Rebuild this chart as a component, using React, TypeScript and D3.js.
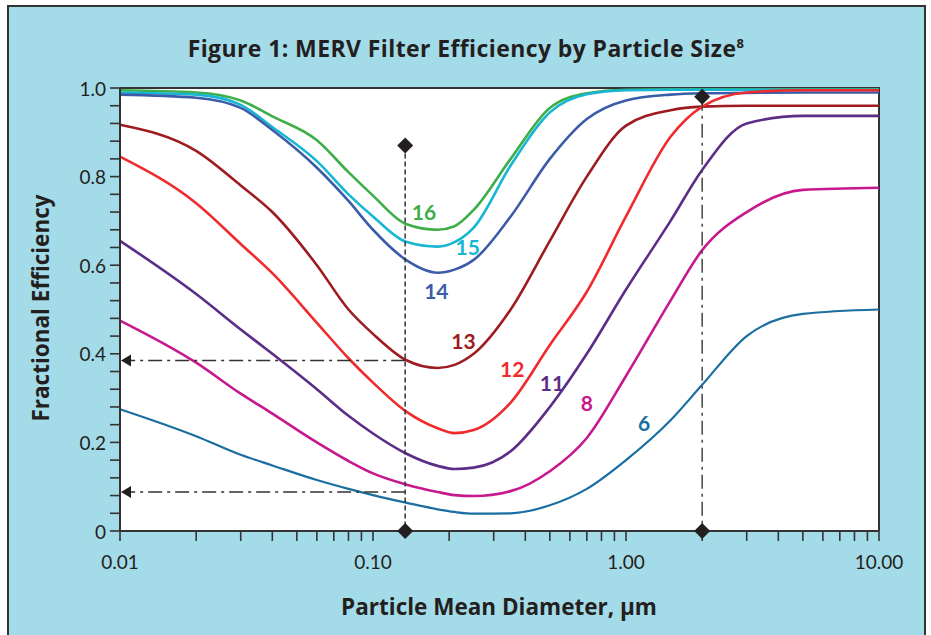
import React from "react";
import * as d3 from "d3";

const DIAMETERS = [0.01, 0.02, 0.03, 0.04, 0.06, 0.08, 0.1, 0.135, 0.18, 0.21, 0.25, 0.35, 0.5, 0.7, 1, 1.5, 2, 3, 5, 10];

const MERV16 = [0.995, 0.99, 0.972, 0.936, 0.882, 0.81, 0.757, 0.693, 0.68, 0.688, 0.725, 0.84, 0.955, 0.988, 0.996, 0.997, 0.997, 0.997, 0.997, 0.997];
const MERV15 = [0.99, 0.985, 0.962, 0.912, 0.835, 0.76, 0.71, 0.653, 0.642, 0.652, 0.685, 0.825, 0.945, 0.986, 0.995, 0.996, 0.996, 0.996, 0.996, 0.996];
const MERV14 = [0.985, 0.978, 0.955, 0.905, 0.82, 0.745, 0.68, 0.612, 0.583, 0.59, 0.612, 0.71, 0.84, 0.93, 0.972, 0.985, 0.988, 0.989, 0.99, 0.99];
const MERV13 = [0.917, 0.858, 0.78, 0.72, 0.6, 0.5, 0.445, 0.386, 0.368, 0.375, 0.4, 0.5, 0.655, 0.8, 0.915, 0.95, 0.958, 0.96, 0.96, 0.96];
const MERV12 = [0.845, 0.74, 0.648, 0.582, 0.47, 0.39, 0.335, 0.27, 0.232, 0.221, 0.228, 0.29, 0.42, 0.54, 0.71, 0.89, 0.958, 0.99, 0.995, 0.995];
const MERV11 = [0.655, 0.535, 0.455, 0.4, 0.32, 0.26, 0.22, 0.175, 0.147, 0.14, 0.143, 0.18, 0.28, 0.4, 0.545, 0.7, 0.815, 0.92, 0.937, 0.937];
const MERV8 = [0.475, 0.38, 0.31, 0.265, 0.2, 0.158, 0.13, 0.105, 0.088, 0.081, 0.079, 0.09, 0.135, 0.21, 0.35, 0.52, 0.634, 0.72, 0.77, 0.775];
const MERV6 = [0.275, 0.214, 0.172, 0.148, 0.115, 0.095, 0.081, 0.064, 0.049, 0.043, 0.039, 0.04, 0.058, 0.095, 0.16, 0.25, 0.33, 0.44, 0.49, 0.5];

const SERIES_NAMES = ["16", "15", "14", "13", "12", "11", "8", "6"];
const SERIES_VALUES = [MERV16, MERV15, MERV14, MERV13, MERV12, MERV11, MERV8, MERV6];
const SERIES_COLORS = ["#3dae49", "#17b6d4", "#3b5ca8", "#9e1b20", "#ef2b2d", "#5c2d86", "#c7198d", "#1a6ea0"];
// label anchors (diameter, efficiency)
const LABEL_D = [0.159, 0.237, 0.178, 0.228, 0.355, 0.51, 0.7, 1.18];
const LABEL_V = [0.722, 0.643, 0.542, 0.431, 0.366, 0.336, 0.289, 0.246];

const X_LABEL_TICKS = [0.01, 0.1, 1, 10];
const X_LABEL_TEXT = ["0.01", "0.10", "1.00", "10.00"];
const Y_LABEL_TICKS = [0, 0.2, 0.4, 0.6, 0.8, 1.0];
const Y_LABEL_TEXT = ["0", "0.2", "0.4", "0.6", "0.8", "1.0"];

// reference markers
const MARK_D1 = 0.134;
const MARK_D1_TOP = 0.87;
const MARK_D2 = 2.0;
const MARK_D2_TOP = 0.98;
const H_LINES = [0.385, 0.088];

const W = 931;
const H = 635;
const INK = "#231f20";
const FONT = "Lato, 'Open Sans', sans-serif";
const BOLD_FONT = "'Open Sans', Lato, sans-serif";

export default function App() {
  const x = d3.scaleLog().domain([0.01, 10]).range([120, 879]);
  const y = d3.scaleLinear().domain([0, 1]).range([531, 88]);

  const line = d3
    .line<[number, number]>()
    .x((d) => x(d[0]))
    .y((d) => y(d[1]))
    .curve(d3.curveMonotoneX);

  const minorX: number[] = [];
  for (const dec of [0.01, 0.1, 1]) {
    for (let k = 1; k <= 9; k++) minorX.push(+(dec * k).toPrecision(3));
  }
  minorX.push(10);
  const minorY = d3.range(0, 26).map((i) => +(i * 0.04).toFixed(2));

  const diamond = (cx: number, cy: number, r = 8) =>
    `M${cx},${cy - r}L${cx + r},${cy}L${cx},${cy + r}L${cx - r},${cy}Z`;

  const x0 = x(0.01);
  const x1 = x(10);
  const y0 = y(0);
  const y1 = y(1);

  return (
    <svg
      width={W}
      height={H}
      style={{ position: "absolute", left: 0, top: 0 }}
      fontFamily={FONT}
    >
      <rect x={8} y={6} width={917} height={H + 10} fill="#a3dbe8" stroke="#333" strokeWidth={2} />
      <text x={466} y={57} textAnchor="middle" fontSize={23} letterSpacing={0.4} fontWeight="bold" fill={INK} fontFamily={BOLD_FONT}>
        Figure 1: MERV Filter Efficiency by Particle Size
        <tspan fontSize={13} dy={-9}>8</tspan>
      </text>

      <rect x={x0} y={y1} width={x1 - x0} height={y0 - y1} fill="#fff" />
      <path d={`M${x0},${y1}H${x1}V${y0}`} fill="none" stroke="#333" strokeWidth={2} />

      {SERIES_VALUES.map((vals, i) => (
        <path
          key={SERIES_NAMES[i]}
          d={line(DIAMETERS.map((d, j) => [d, vals[j]] as [number, number])) || ""}
          fill="none"
          stroke={SERIES_COLORS[i]}
          strokeWidth={i === 7 ? 2.2 : 2.6}
        />
      ))}

      {SERIES_NAMES.map((n, i) => (
        <text
          key={"l" + n}
          x={x(LABEL_D[i])}
          y={y(LABEL_V[i])}
          textAnchor="middle"
          dominantBaseline="central"
          fontSize={21}
          fontWeight="bold"
          fill={SERIES_COLORS[i]}
        >
          {n}
        </text>
      ))}

      {/* reference lines */}
      <line x1={x(MARK_D1)} x2={x(MARK_D1)} y1={y(MARK_D1_TOP)} y2={y0} stroke="#333" strokeWidth={1.5} strokeDasharray="5,3" />
      <line x1={x(MARK_D2)} x2={x(MARK_D2)} y1={y(MARK_D2_TOP)} y2={y0} stroke="#444" strokeWidth={1.5} strokeDasharray="14,5,3,5" />
      {H_LINES.map((v) => (
        <g key={"h" + v}>
          <line x1={x(MARK_D1)} x2={x0 + 8} y1={y(v)} y2={y(v)} stroke="#333" strokeWidth={1.5} strokeDasharray="14,5,3,5" />
          <path d={`M${x0 + 1},${y(v)}L${x0 + 11},${y(v) - 6}L${x0 + 11},${y(v) + 6}Z`} fill={INK} />
        </g>
      ))}

      {/* axes */}
      <line x1={x0} x2={x0} y1={y1} y2={y0} stroke="#333" strokeWidth={2} />
      <line x1={x0} x2={x1} y1={y0} y2={y0} stroke="#333" strokeWidth={2} />
      {minorX.map((t) => (
        <line key={"xt" + t} x1={x(t)} x2={x(t)} y1={y0} y2={y0 + 10} stroke="#333" strokeWidth={1.6} />
      ))}
      {minorY.map((t) => (
        <line key={"yt" + t} x1={x0 - 10} x2={x0} y1={y(t)} y2={y(t)} stroke="#333" strokeWidth={1.6} />
      ))}
      {X_LABEL_TICKS.map((t, i) => (
        <text key={"xl" + t} x={x(t)} y={y0 + 38} textAnchor="middle" fontSize={19} fill={INK}>
          {X_LABEL_TEXT[i]}
        </text>
      ))}
      {Y_LABEL_TICKS.map((t, i) => (
        <text key={"yl" + t} x={x0 - 14} y={y(t)} textAnchor="end" dominantBaseline="central" fontSize={19} fill={INK}>
          {Y_LABEL_TEXT[i]}
        </text>
      ))}

      {/* markers */}
      <path d={diamond(x(MARK_D1), y(MARK_D1_TOP))} fill={INK} />
      <path d={diamond(x(MARK_D1), y0)} fill={INK} />
      <path d={diamond(x(MARK_D2), y(MARK_D2_TOP))} fill={INK} />
      <path d={diamond(x(MARK_D2), y0)} fill={INK} />

      <text x={499} y={615} textAnchor="middle" fontSize={22.5} fontWeight="bold" fill={INK} fontFamily={BOLD_FONT}>
        Particle Mean Diameter, μm
      </text>
      <text
        transform={`translate(49,308) rotate(-90)`}
        textAnchor="middle"
        fontSize={22.5}
        fontWeight="bold"
        fill={INK}
        fontFamily={BOLD_FONT}
      >
        Fractional Efficiency
      </text>
    </svg>
  );
}
